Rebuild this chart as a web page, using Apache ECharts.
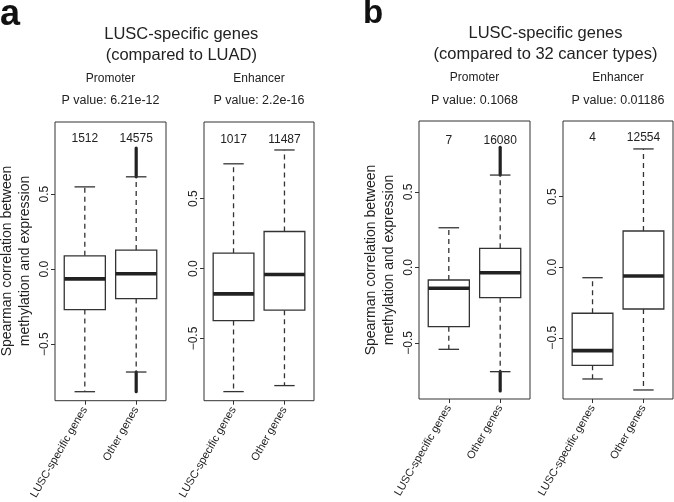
<!DOCTYPE html>
<html>
<head>
<meta charset="utf-8">
<script src="https://cdn.jsdelivr.net/npm/echarts@6/dist/echarts.min.js"></script>
<style>html,body{margin:0;padding:0;background:#fff}#c{width:674px;height:502px}</style>
</head>
<body>
<div id="c"></div>
<script>
// ---------------- data ----------------
const categories = ['LUSC-specific genes', 'Other genes'];
const panelNames = ['Promoter', 'Enhancer', 'Promoter', 'Enhancer'];
const pValues = ['P value: 6.21e-12', 'P value: 2.2e-16', 'P value: 0.1068', 'P value: 0.01186'];
const groupTitles = ['LUSC-specific genes\n(compared to LUAD)', 'LUSC-specific genes\n(compared to 32 cancer types)'];
const panelLetters = ['a', 'b'];
const yAxisTitle = 'Spearman correlation between\nmethylation and expression';
const yTicks = [-0.5, 0, 0.5];

// gene counts per panel [LUSC-specific, Other]
const geneCounts = [[1512, 14575], [1017, 11487], [7, 16080], [4, 12554]];

// box stats: [lower whisker, Q1, median, Q3, upper whisker]
const promoterLUAD = [[-0.816, -0.269, -0.065, 0.089, 0.548], [-0.685, -0.196, -0.031, 0.127, 0.615]];
const enhancerLUAD = [[-0.880, -0.372, -0.181, 0.110, 0.749], [-0.837, -0.298, -0.043, 0.265, 0.848]];
const promoterPan  = [[-0.543, -0.393, -0.139, -0.084, 0.262], [-0.691, -0.201, -0.036, 0.126, 0.611]];
const enhancerPan  = [[-0.792, -0.695, -0.591, -0.326, -0.074], [-0.870, -0.296, -0.062, 0.257, 0.839]];
const boxStats = [promoterLUAD, enhancerLUAD, promoterPan, enhancerPan];

// outlier extents [lowest outlier, highest outlier] (NaN = none)
const outliers = [
  [[NaN, NaN], [-0.816, 0.807]],
  [[NaN, NaN], [NaN, NaN]],
  [[NaN, NaN], [-0.819, 0.795]],
  [[NaN, NaN], [NaN, NaN]]
];

// y axis ranges per panel
const yRanges = [[-0.876, 0.98], [-0.945, 1.048], [-0.872, 0.969], [-0.934, 1.037]];

// ---------------- layout ----------------
const grids = [
  {left: 55, top: 122, width: 111, height: 279},
  {left: 204, top: 122, width: 110, height: 279},
  {left: 419, top: 121, width: 111, height: 278},
  {left: 563, top: 121, width: 110, height: 278}
];
const countOffset = [17, 17.5, 19.5, 16.5];
const FONT = '"Liberation Sans", Arial, Helvetica, sans-serif';
const INK = '#222';
const LINE = '#333';

const chart = echarts.init(document.getElementById('c'), null, {renderer: 'canvas'});

const xAxes = [], yAxes = [], series = [], gridOpts = [];
grids.forEach((g, p) => {
  gridOpts.push(Object.assign({show: true, borderColor: LINE, borderWidth: 1, backgroundColor: 'transparent'}, g));
  xAxes.push({
    type: 'value', gridIndex: p, min: 0.42, max: 2.58, position: 'bottom',
    axisLine: {show: false, onZero: false}, splitLine: {show: false},
    axisTick: {show: true, length: 4, lineStyle: {color: LINE}, customValues: [1, 2]},
    axisLabel: {show: true, rotate: 60, margin: 7, fontSize: 11, fontFamily: FONT, color: INK,
      customValues: [1, 2], formatter: v => categories[Math.round(v) - 1]}
  });
  yAxes.push({
    type: 'value', gridIndex: p, min: yRanges[p][0], max: yRanges[p][1], position: 'left',
    axisLine: {show: false, onZero: false}, splitLine: {show: false},
    axisTick: {show: true, length: 4, lineStyle: {color: LINE}, customValues: yTicks},
    axisLabel: {show: true, rotate: 90, margin: 4, fontSize: 12, fontFamily: FONT, color: INK,
      customValues: yTicks,
      formatter: v => (v < 0 ? '\u2212' : '') + Math.abs(v).toFixed(1)}
  });
  const items = boxStats[p].map((s, i) => ({
    x: i + 1, lo: s[0], q1: s[1], med: s[2], q3: s[3], hi: s[4],
    oLo: outliers[p][i][0], oHi: outliers[p][i][1], n: geneCounts[p][i]
  }));
  series.push({
    type: 'custom', xAxisIndex: p, yAxisIndex: p, silent: true,
    data: items.map(d => [d.x, d.med]),
    renderItem: function (params, api) {
      const d = items[params.dataIndex];
      const cx = api.coord([d.x, d.med])[0];
      const w = api.size([0.8, 0])[0];
      const Y = v => api.coord([d.x, v])[1];
      const dashed = {stroke: LINE, lineWidth: 1.3, lineDash: [5, 4], fill: null};
      const solid = {stroke: LINE, lineWidth: 1.3, fill: null};
      const ch = [];
      ch.push({type: 'line', shape: {x1: cx, y1: Y(d.q3), x2: cx, y2: Y(d.hi)}, style: dashed});
      ch.push({type: 'line', shape: {x1: cx, y1: Y(d.q1), x2: cx, y2: Y(d.lo)}, style: dashed});
      if (isFinite(d.oHi)) ch.push({type: 'line', shape: {x1: cx, y1: Y(d.hi), x2: cx, y2: Y(d.oHi)}, style: {stroke: INK, lineWidth: 3.2, lineCap: 'round'}});
      if (isFinite(d.oLo)) ch.push({type: 'line', shape: {x1: cx, y1: Y(d.lo), x2: cx, y2: Y(d.oLo)}, style: {stroke: INK, lineWidth: 3.2, lineCap: 'round'}});
      ch.push({type: 'line', shape: {x1: cx - w / 4, y1: Y(d.hi), x2: cx + w / 4, y2: Y(d.hi)}, style: solid});
      ch.push({type: 'line', shape: {x1: cx - w / 4, y1: Y(d.lo), x2: cx + w / 4, y2: Y(d.lo)}, style: solid});
      ch.push({type: 'rect', shape: {x: cx - w / 2, y: Y(d.q3), width: w, height: Y(d.q1) - Y(d.q3)}, style: {fill: '#fff', stroke: LINE, lineWidth: 1.3}});
      ch.push({type: 'line', shape: {x1: cx - w / 2, y1: Y(d.med), x2: cx + w / 2, y2: Y(d.med)}, style: {stroke: INK, lineWidth: 3.6}});
      ch.push({type: 'text', style: {x: cx, y: params.coordSys.y + countOffset[p], text: String(d.n),
        align: 'center', verticalAlign: 'middle', fill: INK, font: '12px ' + FONT}});
      return {type: 'group', children: ch};
    }
  });
});

const graphics = [];
// panel letters
graphics.push({type: 'text', x: 0, y: 15.5, style: {text: panelLetters[0], font: 'bold 36px ' + FONT, fill: '#111', align: 'left', verticalAlign: 'middle'}});
graphics.push({type: 'text', x: 363, y: 13.9, style: {text: panelLetters[1], font: 'bold 33px ' + FONT, fill: '#111', align: 'left', verticalAlign: 'middle'}});
// group titles
[[181.3, 44.8], [545.5, 43.8]].forEach((pos, k) => {
  graphics.push({type: 'text', x: pos[0], y: pos[1], style: {text: groupTitles[k], font: '16.5px ' + FONT, lineHeight: 20.5,
    fill: INK, align: 'center', verticalAlign: 'middle'}});
});
// subtitles
const subY = [79, 79, 77.7, 77.7];
grids.forEach((g, p) => {
  const cx = g.left + g.width / 2;
  graphics.push({type: 'text', x: cx, y: subY[p], style: {text: panelNames[p], font: '12px ' + FONT, fill: INK, align: 'center', verticalAlign: 'middle'}});
  graphics.push({type: 'text', x: cx, y: 101, style: {text: pValues[p], font: '12.5px ' + FONT, fill: INK, align: 'center', verticalAlign: 'middle'}});
});
// y axis titles
[[16, 261], [380.3, 260]].forEach(pos => {
  graphics.push({type: 'text', x: pos[0], y: pos[1], rotation: Math.PI / 2,
    style: {text: yAxisTitle, font: '14px ' + FONT, lineHeight: 18, fill: INK, align: 'center', verticalAlign: 'middle'}});
});

chart.setOption({
  animation: false,
  backgroundColor: '#fff',
  grid: gridOpts,
  xAxis: xAxes,
  yAxis: yAxes,
  series: series,
  graphic: graphics
});
</script>
</body>
</html>
